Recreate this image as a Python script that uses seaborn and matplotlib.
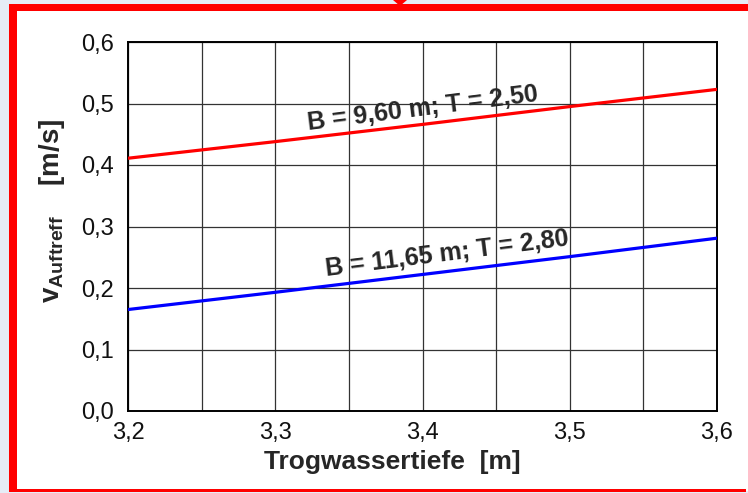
import matplotlib
matplotlib.use("Agg")
import matplotlib.pyplot as plt
import matplotlib.patches as mpatches
from matplotlib.ticker import FixedLocator, FuncFormatter
import seaborn as sns
import pandas as pd

# data
depth = [3.2, 3.3, 3.4, 3.5, 3.6]
v_b960 = [0.411, 0.438, 0.466, 0.495, 0.523]
v_b1165 = [0.165, 0.193, 0.222, 0.251, 0.281]
series_names = ["B = 9,60 m; T = 2,50", "B = 11,65 m; T = 2,80"]
colors = ["#ff0000", "#0000ff"]
x_ticks = [3.2, 3.25, 3.3, 3.35, 3.4, 3.45, 3.5, 3.55, 3.6]
y_ticks = [0.0, 0.1, 0.2, 0.3, 0.4, 0.5, 0.6]
x_label = "Trogwassertiefe  [m]"

df = pd.DataFrame({
    "x": depth * 2,
    "v": v_b960 + v_b1165,
    "serie": [series_names[0]] * len(depth) + [series_names[1]] * len(depth),
})

sns.set_style("white")
plt.rcParams["font.family"] = ["Liberation Sans", "DejaVu Sans"]
plt.rcParams["mathtext.fontset"] = "custom"
plt.rcParams["mathtext.rm"] = "Liberation Sans"
plt.rcParams["mathtext.bf"] = "Liberation Sans:bold"
plt.rcParams["mathtext.it"] = "Liberation Sans:italic"

fig = plt.figure(figsize=(7.48, 4.93), dpi=100, facecolor="#e6ecf6")

# white panel with red frame
W, H = 748, 493
def fx(px): return px / W
def fy(py): return 1 - py / H
def add_rect(x0, y0, x1, y1, color):
    fig.patches.append(mpatches.Rectangle((fx(x0), fy(y1)), fx(x1) - fx(x0), fy(y0) - fy(y1),
                                          transform=fig.transFigure, facecolor=color,
                                          edgecolor="none", zorder=-2))
add_rect(9, 4, 748, 491, "white")
add_rect(9, 4, 17, 491, "#ff0000")
add_rect(9, 4, 748, 11, "#ff0000")
add_rect(9, 489.5, 746, 492, "#ff0000")
fig.patches.append(mpatches.Polygon([(fx(393), fy(0)), (fx(407), fy(0)), (fx(400), fy(6))],
                                    closed=True, transform=fig.transFigure,
                                    facecolor="#ff0000", edgecolor="none", zorder=-1))

ax = fig.add_axes([fx(128), fy(411), fx(717) - fx(128), fy(42) - fy(411)])
ax.set_zorder(5)
ax.set_facecolor("white")

sns.lineplot(data=df, x="x", y="v", hue="serie", palette=colors, linewidth=2.3,
             ax=ax, legend=False, zorder=3)

ax.set_xlim(3.2, 3.6)
ax.set_ylim(0.0, 0.6)
ax.xaxis.set_major_locator(FixedLocator(x_ticks))
ax.yaxis.set_major_locator(FixedLocator(y_ticks))

def xfmt(v, pos):
    if abs(round(v * 10) - v * 10) < 1e-6:
        return f"{v:.1f}".replace(".", ",")
    return ""
ax.xaxis.set_major_formatter(FuncFormatter(xfmt))
ax.yaxis.set_major_formatter(FuncFormatter(lambda v, p: f"{v:.1f}".replace(".", ",")))

ax.grid(True, color="#333333", linewidth=0.9, zorder=1)
ax.set_axisbelow(True)
for s in ax.spines.values():
    s.set_color("black")
    s.set_linewidth(1.4)

ax.tick_params(axis="both", direction="out", length=6, width=1.2, color="black",
               labelsize=17, labelcolor="#111111")
ax.tick_params(axis="x", pad=2)
ax.tick_params(axis="y", pad=4)

ax.set_xlabel("")
ax.set_ylabel("")
fig.text(fx(392), fy(462), x_label, ha="center", va="center",
         fontsize=19, fontweight="bold", zorder=6)
fig.text(fx(52), fy(211), r"$\mathbf{v}_{\mathbf{Auftreff}}$    [m/s]", rotation=90,
         ha="center", va="center", fontsize=20, fontweight="bold", zorder=6)

ax.text(3.4, 0.492, series_names[0], rotation=7.2, ha="center", va="center",
        fontsize=18, fontweight="bold", rotation_mode="anchor", zorder=4)
ax.text(3.417, 0.255, series_names[1], rotation=7.2, ha="center", va="center",
        fontsize=18, fontweight="bold", rotation_mode="anchor", zorder=4)

fig.savefig("out.png", dpi=100, facecolor=fig.get_facecolor())
